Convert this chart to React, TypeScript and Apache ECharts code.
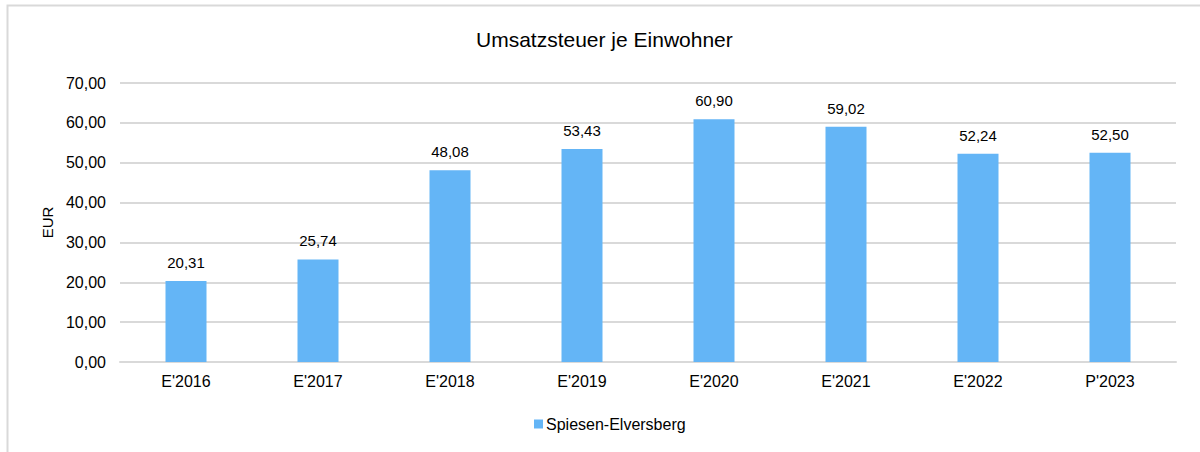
import React, { useEffect, useRef } from "react";
import * as echarts from "echarts";

const categories = ["E'2016", "E'2017", "E'2018", "E'2019", "E'2020", "E'2021", "E'2022", "P'2023"];
const values = [20.31, 25.74, 48.08, 53.43, 60.9, 59.02, 52.24, 52.5];
const seriesName = "Spiesen-Elversberg";
const title = "Umsatzsteuer je Einwohner";
const yAxisName = "EUR";

const fmt = (v: number) => v.toFixed(2).replace(".", ",");

export default function App() {
  const ref = useRef<HTMLDivElement>(null);
  useEffect(() => {
    const chart = echarts.init(ref.current!, null, { renderer: "svg" });
    const font = "Liberation Sans, Arial, sans-serif";
    chart.setOption({
      animation: false,
      backgroundColor: "#ffffff",
      textStyle: { fontFamily: font },
      title: {
        text: title,
        left: 471,
        top: 24,
        textStyle: { fontFamily: font, fontSize: 21, fontWeight: "normal", color: "#000" },
      },
      graphic: [
        {
          type: "rect",
          shape: { x: 7.5, y: 5.5, width: 1300, height: 500 },
          style: { fill: "none", stroke: "#d9d9d9", lineWidth: 2 },
          silent: true,
          z: 100,
        },
      ],
      legend: {
        bottom: 15,
        left: 529,
        itemWidth: 9,
        itemHeight: 9,
        itemGap: 10,
        icon: "rect",
        textStyle: { fontFamily: font, fontSize: 16, color: "#000", padding: [0, 0, 0, -2] },
        data: [seriesName],
      },
      grid: { left: 120, right: 24, top: 83, bottom: 90, containLabel: false },
      xAxis: {
        type: "category",
        data: categories,
        axisLine: { show: true, lineStyle: { color: "#d9d9d9", width: 2 } },
        axisTick: { show: false },
        axisLabel: { color: "#000", fontSize: 16, margin: 11, fontFamily: font },
      },
      yAxis: {
        type: "value",
        min: 0,
        max: 70,
        interval: 10,
        name: yAxisName,
        nameLocation: "middle",
        nameGap: 65,
        nameTextStyle: { color: "#000", fontSize: 15, fontFamily: font },
        axisLine: { show: false },
        axisTick: { show: false },
        splitLine: { lineStyle: { color: "#d9d9d9", width: 2 } },
        axisLabel: {
          color: "#000",
          fontSize: 16,
          margin: 14,
          fontFamily: font,
          formatter: (v: number) => fmt(v),
        },
      },
      series: [
        {
          name: seriesName,
          type: "bar",
          data: values,
          barWidth: 41,
          itemStyle: { color: "#64B5F6" },
          label: {
            show: true,
            position: "top",
            distance: 11,
            color: "#000",
            fontSize: 15,
            fontFamily: font,
            formatter: (p: any) => fmt(p.value),
          },
        },
      ],
    });
    return () => chart.dispose();
  }, []);
  return (
    <div
      ref={ref}
      style={{ position: "fixed", left: 0, top: 0, width: 1200, height: 452 }}
    />
  );
}
